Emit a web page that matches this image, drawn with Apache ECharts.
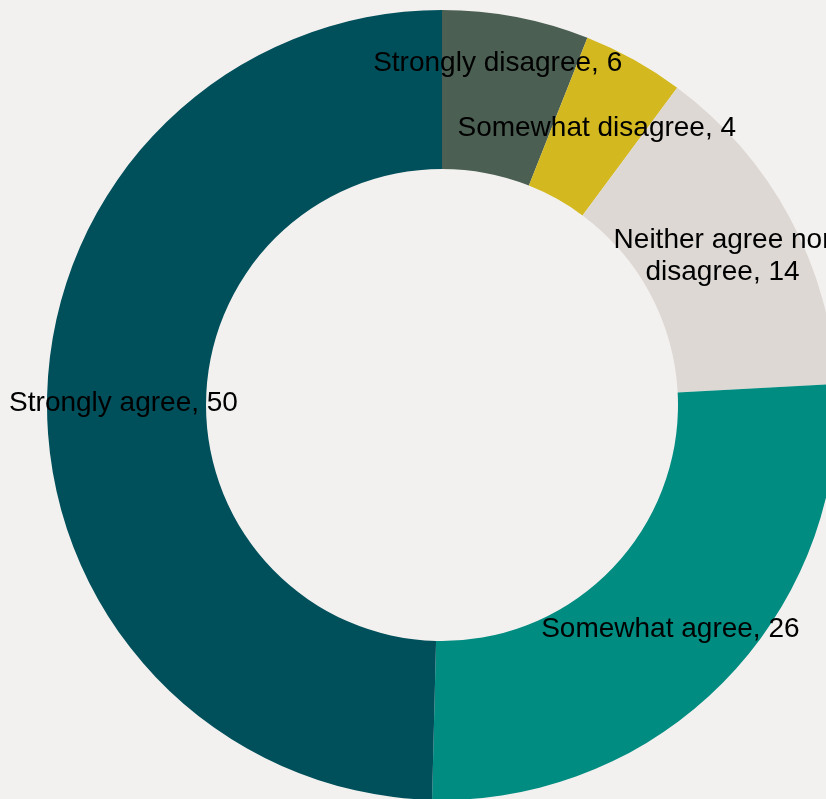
<!DOCTYPE html>
<html>
<head>
<meta charset="utf-8">
<script src="https://cdn.jsdelivr.net/npm/echarts@6/dist/echarts.min.js"></script>
<style>
html,body{margin:0;padding:0;background:#f3f1ef;}
#chart{width:826px;height:799px;}
</style>
</head>
<body>
<div id="chart"></div>
<script>
const categories = ['Strongly disagree', 'Somewhat disagree', 'Neither agree nor\ndisagree', 'Somewhat agree', 'Strongly agree'];
const values = [6.0, 4.15, 14.0, 26.25, 49.6];
const colors = ['#4b5f53', '#d3b91f', '#ddd8d4', '#008c81', '#00505c'];

const chart = echarts.init(document.getElementById('chart'), null, {renderer: 'canvas'});
const data = categories.map((c, i) => {
  const item = {name: c, value: values[i], itemStyle: {color: colors[i]}};
  if (i === 0) item.label = {offset: [-4, -29]};
  return item;
});
chart.setOption({
  backgroundColor: '#f3f1ef',
  animation: false,
  series: [{
    type: 'pie',
    center: [442, 405],
    radius: [236, 395],
    startAngle: 90,
    clockwise: true,
    avoidLabelOverlap: false,
    silent: true,
    itemStyle: {borderWidth: 0},
    label: {
      show: true,
      position: 'inside',
      offset: [0, 2],
      color: '#000000',
      fontFamily: '"Liberation Sans", Arial, sans-serif',
      fontSize: 28,
      lineHeight: 32,
      align: 'center',
      formatter: p => p.name + ', ' + Math.round(p.value)
    },
    labelLine: {show: false},
    data: data
  }]
});
</script>
</body>
</html>
